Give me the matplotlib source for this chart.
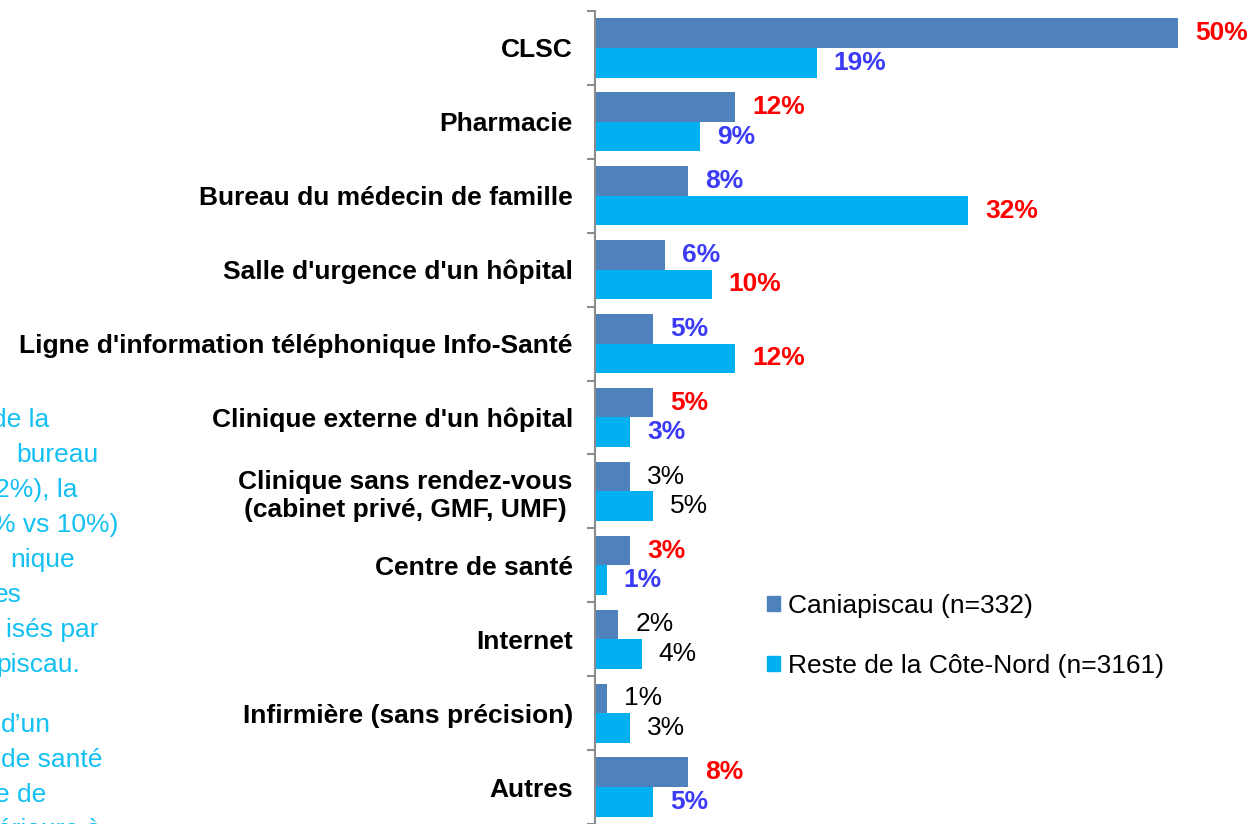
import matplotlib.pyplot as plt
import numpy as np
from matplotlib.patches import Patch

plt.rcParams['font.family'] = ['Liberation Sans', 'DejaVu Sans']

W, H = 1251, 824

categories = [
    "CLSC",
    "Pharmacie",
    "Bureau du médecin de famille",
    "Salle d'urgence d'un hôpital",
    "Ligne d'information téléphonique Info-Santé",
    "Clinique externe d'un hôpital",
    "Clinique sans rendez-vous\n(cabinet privé, GMF, UMF)",
    "Centre de santé",
    "Internet",
    "Infirmière (sans précision)",
    "Autres",
]
caniapiscau = [50, 12, 8, 6, 5, 5, 3, 3, 2, 1, 8]
reste = [19, 9, 32, 10, 12, 3, 5, 1, 4, 3, 5]
# significance: "hi" = significantly higher, "lo" = lower, "ns" = not significant
sig_cani = ["hi", "hi", "lo", "lo", "lo", "hi", "ns", "hi", "ns", "ns", "hi"]
sig_reste = ["lo", "lo", "hi", "hi", "hi", "lo", "ns", "lo", "ns", "ns", "lo"]
series_names = ["Caniapiscau (n=332)", "Reste de la Côte-Nord (n=3161)"]

# fragments of the side comment (cut by the left edge of the slide)
side_lines = ["de la", "bureau", "2%), la", "% vs 10%)", "nique", "es", "isés par",
              "piscau.", "d’un", "de santé", "e de", "érieure à"]
side_x = [-8, 16, -5, -8, 10, -6, 6, -4, 1, 1, -5, -3]
side_base = [427, 462, 497, 532, 567, 602, 637, 672, 732, 767, 802, 837]

DARK = "#4F81BD"
LIGHT = "#00B0F0"
RED = "#FF0000"
BLUE = "#3B3BF5"
SIDE = "#12C0F2"
FS = 19

fig = plt.figure(figsize=(W / 100, H / 100), dpi=100)
ax = fig.add_axes([595 / W, 0, 656 / W, 1])

n = len(categories)
y = np.arange(n)
px_per_cat = 74
ax.set_ylim(-0.5 + (H - 11) / px_per_cat, -0.5 - 11 / px_per_cat)
ax.set_xlim(0, 50 * 656 / 583)

ax.barh(y - 0.2, caniapiscau, height=0.4, color=DARK, label=series_names[0])
ax.barh(y + 0.2, reste, height=0.4, color=LIGHT, label=series_names[1])

styles = {"hi": (RED, "bold"), "lo": (BLUE, "bold"), "ns": ("black", "normal")}
for vals, sigs, off in [(caniapiscau, sig_cani, -0.2), (reste, sig_reste, 0.2)]:
    for i, (v, s) in enumerate(zip(vals, sigs)):
        c, w = styles[s]
        ax.annotate(f"{v}%", xy=(v, i + off), xytext=(17, 0), textcoords="offset pixels",
                    ha="left", va="center", fontsize=FS, color=c, fontweight=w)

for s in ["top", "right", "bottom"]:
    ax.spines[s].set_visible(False)
ax.spines["left"].set_color("#8C8C8C")
ax.spines["left"].set_linewidth(1.5)
ax.spines["left"].set_bounds(-0.5, n - 0.5)
ax.set_xticks([])

ax.set_yticks(y)
ax.set_yticklabels(categories, fontsize=FS, fontweight="bold", multialignment="center")
ax.set_yticks(np.arange(n + 1) - 0.5, minor=True)
ax.tick_params(axis="y", which="major", length=0, pad=16)
ax.tick_params(axis="y", which="minor", length=6, width=1.5, color="#8C8C8C", direction="out")

handles = [Patch(color=DARK), Patch(color=LIGHT)]
ax.legend(handles, series_names, loc="upper left", bbox_to_anchor=(767 / W, 1 - 594 / H),
          bbox_transform=fig.transFigure, frameon=False, fontsize=FS,
          handlelength=0.5, handleheight=0.5, handletextpad=0.3,
          labelspacing=1.36, borderpad=0, borderaxespad=0)

for t, xx, yy in zip(side_lines, side_x, side_base):
    fig.text(xx / W, 1 - yy / H, t, fontsize=FS, color=SIDE, ha="left", va="baseline")

fig.savefig("out.png", dpi=100)
